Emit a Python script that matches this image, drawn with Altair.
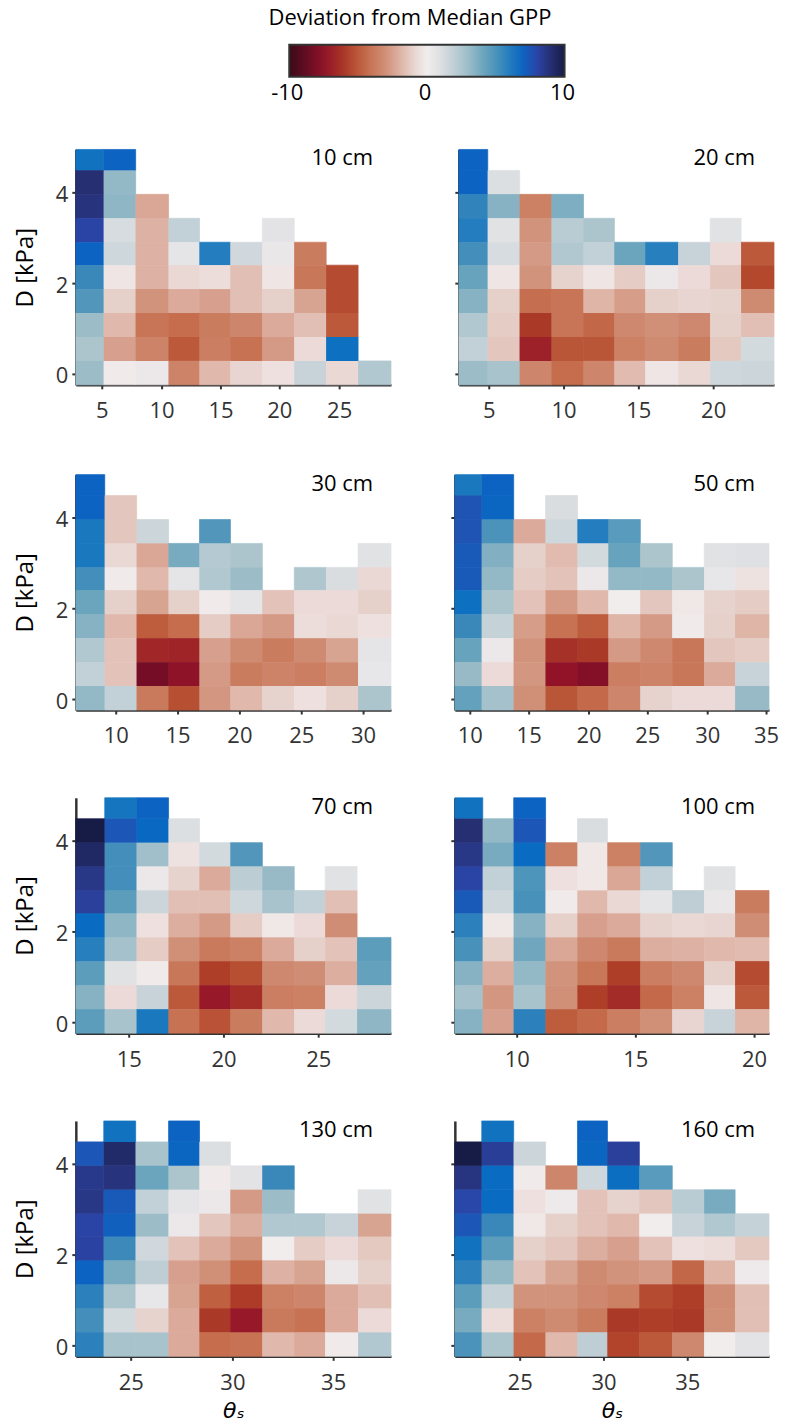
import altair as alt
import pandas as pd

FONT = "Open Sans"
INK = "#333333"

color_stops = [-10, -8.6, -7.3, -5.7, -4.5, -3, -1.1, 0, 1, 2.7, 4.1, 5.5, 7, 8, 9, 10]
color_hex = ["#3a0a18", "#6a0c24", "#951428", "#b04028", "#c46a4a", "#d09078", "#e6d0ca", "#f1eded",
             "#dcdfe1", "#a9c3cc", "#6ba5bd", "#3a88ba", "#0d63c1", "#2a44a6", "#252f72", "#161c46"]
colorbar_ticks = [-10, 0, 10]
colorbar_text = ["-10", "0", "10"]

y_edges = [-0.235, 0.29, 0.82, 1.35, 1.875, 2.40, 2.91, 3.44, 3.96, 4.49, 4.95]

labels = ["10 cm", "20 cm", "30 cm", "50 cm", "70 cm", "100 cm", "130 cm", "160 cm"]

x_edges = {
    "10 cm": [2.77, 5.17, 7.87, 10.57, 13.23, 15.84, 18.54, 21.24, 23.89, 26.59, 29.41],
    "20 cm": [2.97, 4.90, 7.04, 9.17, 11.30, 13.37, 15.47, 17.64, 19.74, 21.84, 24.04],
    "30 cm": [6.77, 9.07, 11.65, 14.23, 16.77, 19.27, 21.85, 24.43, 26.97, 29.55, 32.25],
    "50 cm": [8.78, 11.09, 13.74, 16.43, 19.12, 21.68, 24.37, 27.06, 29.75, 32.39, 35.25],
    "70 cm": [12.22, 13.72, 15.40, 17.08, 18.73, 20.36, 22.04, 23.72, 25.37, 27.05, 28.81],
    "100 cm": [7.39, 8.55, 9.87, 11.22, 12.57, 13.85, 15.20, 16.55, 17.90, 19.22, 20.65],
    "130 cm": [22.27, 23.67, 25.25, 26.83, 28.38, 29.91, 31.48, 33.06, 34.61, 36.19, 37.84],
    "160 cm": [21.09, 22.73, 24.61, 26.52, 28.43, 30.25, 32.16, 34.08, 35.99, 37.87, 39.90],
}

x_ticks = {
    "10 cm": [5, 10, 15, 20, 25],
    "20 cm": [5, 10, 15, 20],
    "30 cm": [10, 15, 20, 25, 30],
    "50 cm": [10, 15, 20, 25, 30, 35],
    "70 cm": [15, 20, 25],
    "100 cm": [10, 15, 20],
    "130 cm": [25, 30, 35],
    "160 cm": [25, 30, 35],
}

N = None
# Rows run from the top of each panel (highest D) to the bottom.
gpp_10 = [
    [6.4, 7.0, N, N, N, N, N, N, N, N],
    [9.0, 3.2, N, N, N, N, N, N, N, N],
    [8.8, 3.3, -2.3, N, N, N, N, N, N, N],
    [8.0, 1.2, -2.0, 1.9, N, N, 0.7, N, N, N],
    [7.0, 1.5, -2.0, 0.6, 6.0, 1.4, 0.4, -3.8, N, N],
    [5.5, -0.3, -2.0, -0.8, -0.6, -1.6, -0.3, -4.0, -5.4, N],
    [4.8, -1.1, -2.9, -2.2, -2.5, -1.6, -1.1, -2.4, -5.4, N],
    [3.0, -1.8, -4.1, -4.4, -3.8, -3.4, -2.2, -1.6, -5.0, N],
    [2.6, -2.5, -3.5, -5.0, -3.7, -4.2, -2.7, -0.7, 6.5, N],
    [3.0, -0.1, 0.3, -3.5, -1.8, -0.9, -0.5, 1.7, -0.8, 2.4],
]
gpp_20 = [
    [7.0, N, N, N, N, N, N, N, N, N],
    [7.0, 1.0, N, N, N, N, N, N, N, N],
    [5.7, 3.5, -3.6, 3.7, N, N, N, N, N, N],
    [6.0, 0.8, -2.9, 2.2, 2.6, N, N, N, 0.8, N],
    [5.2, 1.2, -2.7, 2.4, 1.9, 4.1, 5.9, 1.7, -0.7, -5.0],
    [4.2, -0.3, -2.9, -1.0, -0.3, -1.2, 0.3, -0.7, -1.4, -5.5],
    [3.5, -1.1, -4.3, -4.1, -1.9, -2.6, -1.1, -0.9, -1.0, -3.2],
    [2.4, -1.2, -6.0, -4.1, -4.6, -3.3, -3.0, -3.3, -1.1, -1.6],
    [1.9, -1.4, -6.9, -5.1, -5.1, -3.6, -3.2, -3.8, -1.3, 1.3],
    [3.0, 2.7, -3.4, -4.4, -3.4, -1.7, -0.3, -0.8, 1.5, 1.6],
]
gpp_30 = [
    [7.0, N, N, N, N, N, N, N, N, N],
    [7.0, -1.4, N, N, N, N, N, N, N, N],
    [6.2, -1.4, 1.6, N, 4.8, N, N, N, N, N],
    [6.2, -0.8, -2.3, 3.8, 2.3, 2.6, N, N, N, 0.8],
    [5.2, -0.1, -1.8, 0.6, 2.4, 3.0, N, 2.5, 1.1, -0.8],
    [4.1, -1.1, -2.4, -1.1, -0.1, 0.6, -1.5, -0.7, -0.7, -1.1],
    [3.5, -1.8, -4.9, -4.4, -1.2, -2.3, -2.7, -0.6, -0.8, -0.5],
    [2.4, -1.5, -6.7, -6.8, -2.5, -3.2, -3.8, -3.2, -2.4, 0.6],
    [1.9, -1.5, -8.3, -7.5, -2.7, -3.8, -3.5, -3.7, -3.2, 0.5],
    [3.2, 1.9, -3.9, -5.3, -2.8, -1.8, -1.0, -0.5, -1.1, 2.6],
]
gpp_50 = [
    [6.2, 7.0, N, N, N, N, N, N, N, N],
    [7.5, 6.9, N, 1.1, N, N, N, N, N, N],
    [7.5, 5.0, -2.2, 1.5, 6.0, 4.6, N, N, N, N],
    [7.3, 3.6, -1.1, -1.7, 1.3, 4.2, 2.6, N, 0.8, 0.9],
    [7.3, 3.2, -1.2, -1.5, 0.3, 3.2, 3.2, 2.6, 0.5, -0.4],
    [6.5, 2.6, -1.5, -2.7, -1.8, 0.0, -1.4, -0.2, -1.0, -1.2],
    [5.5, 1.8, -2.6, -4.2, -4.9, -1.9, -2.7, -0.1, -1.1, -1.9],
    [4.2, 0.3, -2.9, -6.3, -6.0, -2.7, -3.3, -4.0, -1.4, -1.2],
    [3.1, -0.7, -2.8, -7.4, -7.8, -3.7, -3.5, -4.0, -2.2, 1.7],
    [4.3, 2.8, -3.0, -5.1, -4.5, -3.4, -1.0, -0.7, -0.7, 3.1],
]
gpp_70 = [
    [N, 6.3, 7.0, N, N, N, N, N, N, N],
    [10.0, 7.4, 6.8, 1.0, N, N, N, N, N, N],
    [9.3, 5.2, 2.9, -0.4, 1.3, 4.8, N, N, N, N],
    [8.6, 5.2, 0.3, -1.0, -2.2, 2.1, 3.1, N, 0.8, N],
    [8.2, 4.5, 1.6, -1.6, -1.6, 1.5, 2.7, 1.9, -1.6, N],
    [6.7, 3.3, -0.5, -2.1, -2.7, -1.2, -0.2, -0.7, -3.1, N],
    [5.9, 2.8, -1.2, -3.0, -3.9, -3.6, -2.2, -1.1, -1.5, 4.5],
    [4.5, 0.8, -0.1, -4.0, -5.8, -5.3, -3.3, -3.1, -2.1, 4.3],
    [3.5, -0.7, 1.7, -5.0, -7.2, -6.4, -3.7, -3.6, -0.7, 1.6],
    [4.5, 2.7, 6.2, -4.2, -5.2, -3.8, -1.8, -0.7, 1.3, 3.3],
]
gpp_100 = [
    [6.4, N, 7.0, N, N, N, N, N, N, N],
    [9.0, 3.2, 7.4, N, 1.1, N, N, N, N, N],
    [8.6, 3.8, 6.7, -3.6, -0.2, -3.6, 4.8, N, N, N],
    [8.0, 1.9, 4.9, -0.5, -0.2, -2.3, 1.9, N, 0.8, N],
    [7.3, 1.5, 5.1, -0.1, -1.8, -0.8, 0.6, 2.0, 0.4, -3.8],
    [5.8, -0.2, 3.5, -1.1, -2.5, -2.2, -1.0, -0.8, -0.9, -3.1],
    [5.1, -1.1, 4.0, -2.3, -3.3, -3.9, -2.1, -2.0, -1.8, -1.7],
    [3.5, -2.1, 3.2, -2.9, -4.0, -5.8, -3.7, -3.3, -1.1, -5.4],
    [2.8, -2.8, 2.7, -3.0, -5.8, -6.5, -4.5, -3.6, -0.3, -5.0],
    [3.5, -2.5, 5.8, -4.9, -4.5, -3.7, -3.0, -0.9, 1.7, -1.9],
]
gpp_130 = [
    [N, 6.4, N, 7.0, N, N, N, N, N, N],
    [7.4, 9.2, 2.7, 6.9, 1.0, N, N, N, N, N],
    [8.5, 8.8, 4.1, 2.6, -0.1, 0.7, 5.5, N, N, N],
    [8.6, 7.3, 1.9, 0.6, 0.3, -2.7, 3.0, N, N, 0.8],
    [8.0, 7.1, 3.0, 0.3, -1.4, -2.1, 2.4, 2.4, 1.7, -2.4],
    [8.1, 5.4, 1.4, -1.5, -2.2, -2.9, 0.0, -1.2, -0.7, -1.3],
    [7.0, 3.8, 2.0, -2.5, -3.0, -4.4, -2.0, -2.4, 0.3, -1.1],
    [5.8, 2.6, 0.5, -2.4, -4.8, -5.9, -3.6, -3.4, -2.2, -1.6],
    [5.2, 1.3, -1.0, -2.2, -6.0, -7.2, -3.9, -4.2, -2.2, -0.7],
    [5.8, 2.7, 2.7, -2.2, -4.4, -4.2, -1.8, -2.2, -0.1, 2.4],
]
gpp_160 = [
    [N, 6.4, N, N, 7.0, N, N, N, N, N],
    [10.0, 8.3, 1.6, N, 6.9, 8.2, N, N, N, N],
    [8.7, 6.7, -0.1, -3.4, 1.5, 6.6, 4.6, N, N, N],
    [7.9, 6.7, -0.5, 0.2, -1.5, -1.0, -1.4, 2.2, 3.8, N],
    [7.4, 5.5, -0.2, -1.1, -1.5, -1.8, 0.0, 1.7, 2.4, 1.8],
    [6.4, 4.5, -1.1, -1.4, -2.1, -2.5, -1.5, -0.5, -0.6, -1.3],
    [5.8, 3.2, -1.5, -2.4, -3.2, -2.9, -2.7, -4.6, -1.9, 0.2],
    [4.5, 1.8, -2.9, -2.9, -3.3, -3.6, -5.4, -5.8, -3.1, -1.6],
    [3.8, -0.6, -3.6, -3.2, -3.8, -6.0, -5.8, -6.0, -3.0, -1.6],
    [5.0, 2.6, -4.5, -1.8, 2.0, -5.6, -5.0, -3.3, 0.0, 0.7],
]
values = dict(zip(labels, [gpp_10, gpp_20, gpp_30, gpp_50, gpp_70, gpp_100, gpp_130, gpp_160]))

widths = {"10 cm": 316, "20 cm": 316, "30 cm": 316, "50 cm": 315,
          "70 cm": 316, "100 cm": 315, "130 cm": 316, "160 cm": 315}
tag_x = {"10 cm": 298, "20 cm": 297, "30 cm": 298, "50 cm": 301,
         "70 cm": 298, "100 cm": 301, "130 cm": 298, "160 cm": 301}
PANEL_H = 236


def cells(label):
    xe = x_edges[label]
    rows = []
    for i, row in enumerate(values[label]):
        r = len(y_edges) - 2 - i
        for c, v in enumerate(row):
            if v is not None:
                rows.append(dict(x0=xe[c], x1=xe[c + 1], y0=y_edges[r], y1=y_edges[r + 1], v=v))
    return pd.DataFrame(rows)


def panel(label, left, bottom, with_legend=False):
    xe = x_edges[label]
    legend = None
    if with_legend:
        legend = alt.Legend(
            orient="none", legendX=214, legendY=-105, direction="horizontal", title=None,
            gradientLength=276, gradientThickness=32, gradientStrokeColor=INK,
            gradientStrokeWidth=2, values=colorbar_ticks, labelOpacity=0, labelFontSize=8,
            labelExpr="''",
        )
    color_scale = alt.Scale(domain=color_stops, range=color_hex, clamp=True)
    x_enc = alt.X(
        "x0:Q",
        scale=alt.Scale(domain=[xe[0], xe[-1]], nice=False, zero=False, round=True),
        axis=alt.Axis(
            values=x_ticks[label], grid=False, domainColor=INK, domainWidth=2.5,
            tickColor=INK, tickWidth=2, tickSize=4, labelFont=FONT, labelFontSize=22,
            labelColor=INK, labelPadding=12, labelFlush=False, labelOverlap=False,
            title="θₛ" if bottom else None, titleFont="DejaVu Sans", titleFontSize=22,
            titleFontStyle="italic", titleFontWeight="normal", titleColor="#000000",
            titlePadding=7,
        ),
    )
    y_enc = alt.Y(
        "y0:Q",
        scale=alt.Scale(domain=[y_edges[0], y_edges[-1]], nice=False, zero=False, round=True),
        axis=alt.Axis(
            values=[0, 2, 4], grid=False, domainColor=INK, domainWidth=2.5,
            tickColor=INK, tickWidth=2, tickSize=4, labelFont=FONT, labelFontSize=22,
            labelColor=INK, labelPadding=4, labelOffset=2, labels=left,
            title="D [kPa]" if left else None, titleFont=FONT, titleFontSize=24,
            titleFontWeight="normal", titleColor="#000000", titlePadding=18,
        ),
    )
    seam = alt.Chart(cells(label)).mark_rect(fillOpacity=0, strokeWidth=0.7).encode(
        x=x_enc, x2="x1:Q", y=y_enc, y2="y1:Q",
        stroke=alt.Stroke("v:Q", scale=color_scale, legend=None),
    )
    rect = alt.Chart(cells(label)).mark_rect(stroke=None).encode(
        x=x_enc, x2="x1:Q", y=y_enc, y2="y1:Q",
        color=alt.Color("v:Q", scale=color_scale, legend=legend),
    )
    tag = alt.Chart(pd.DataFrame({"t": [label]})).mark_text(
        font=FONT, fontSize=22, color="#000000", align="right", baseline="middle",
    ).encode(text="t:N", x=alt.value(tag_x[label]), y=alt.value(9))
    layers = [seam, rect, tag]
    if with_legend:
        zero_tick = alt.Chart(pd.DataFrame({"t": [0]})).mark_rule(color=INK, strokeWidth=1).encode(
            x=alt.value(350), y=alt.value(-78), y2=alt.value(-74),
        )
        cbar_labels = alt.Chart(
            pd.DataFrame({"t": colorbar_ticks, "s": colorbar_text})
        ).transform_calculate(px="350 + datum.t * 13.8").mark_text(
            font=FONT, fontSize=22, color="#000000", align="center", baseline="middle",
        ).encode(text="s:N", x=alt.X("px:Q", scale=None), y=alt.value(-57))
        cbar_title = alt.Chart(pd.DataFrame({"t": ["Deviation from Median GPP"]})).mark_text(
            font=FONT, fontSize=22, color="#000000", align="center", baseline="middle",
        ).encode(text="t:N", x=alt.value(335), y=alt.value(-132))
        layers += [zero_tick, cbar_labels, cbar_title]
    return alt.layer(*layers).resolve_scale(color="independent", stroke="independent").properties(
        width=widths[label], height=PANEL_H
    )


row1 = alt.hconcat(panel("10 cm", True, False, True), panel("20 cm", False, False),
                   spacing=68, bounds="flush").resolve_scale(color="independent", stroke="independent")
row2 = alt.hconcat(panel("30 cm", True, False), panel("50 cm", False, False),
                   spacing=64, bounds="flush").resolve_scale(color="independent", stroke="independent")
row3 = alt.hconcat(panel("70 cm", True, False), panel("100 cm", False, False),
                   spacing=64, bounds="flush").resolve_scale(color="independent", stroke="independent")
row4 = alt.hconcat(panel("130 cm", True, True), panel("160 cm", False, True),
                   spacing=64, bounds="flush").resolve_scale(color="independent", stroke="independent")

lower_rows = alt.vconcat(row2, row3, row4, spacing=49).resolve_scale(
    color="independent", stroke="independent"
)
chart = alt.vconcat(row1, lower_rows, spacing=51).resolve_scale(
    color="independent", stroke="independent"
).properties(
    padding={"left": 5, "top": -3, "right": 0, "bottom": 0},
).configure_view(stroke=None)

chart.save("out.html", embed_options={"renderer": "svg", "actions": False})
